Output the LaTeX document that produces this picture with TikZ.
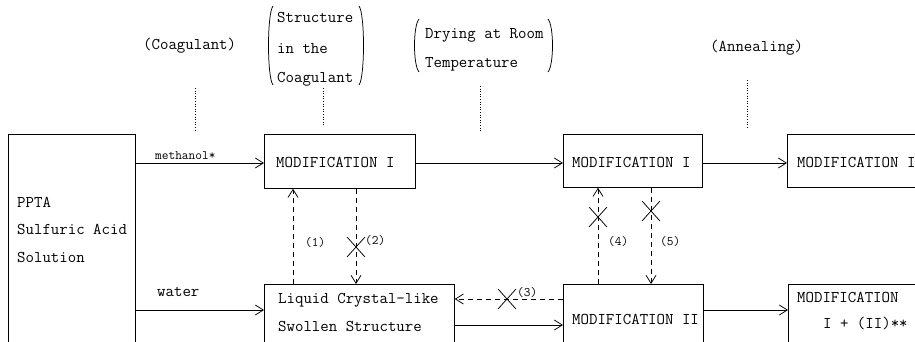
\documentclass[tikz,border=0pt]{standalone}
\usepackage{fontspec}
\usetikzlibrary{arrows.meta,shapes.misc}
\begin{document}
\begin{tikzpicture}[x=1pt,y=-1pt,
  box/.style={draw, line width=0.75pt, inner sep=0pt, anchor=north west},
  txt/.style={inner sep=0pt, anchor=west, text height=9.5pt, text depth=0pt, font=\ttfamily\fontsize{16.4}{18}\selectfont},
  small/.style={inner sep=0pt, anchor=west, text height=8pt, text depth=0pt, font=\ttfamily\fontsize{13}{15}\selectfont},
  flow/.style={line width=0.75pt, -{Straight Barb[length=8pt,width=10pt]}},
  dflow/.style={flow, dash pattern=on 5pt off 4pt},
  dots/.style={line width=0.6pt, dash pattern=on 1pt off 1.6pt},
  paren/.style={line width=0.75pt},
  xmark/.style={cross out, draw, line width=0.75pt, minimum width=17pt, minimum height=19pt, inner sep=0pt}]
\useasboundingbox (0,0) rectangle (915,341);
\clip (0,0) rectangle (915,341);
% boxes
\node[box, minimum width=127pt, minimum height=260pt] (lb) at (8,134) {};
\node[box, minimum width=151pt, minimum height=54pt] (m1) at (264,134) {};
\node[box, minimum width=139pt, minimum height=53pt] (m2) at (563,134) {};
\node[box, minimum width=200pt, minimum height=53pt] (m3) at (787,134) {};
\node[box, minimum width=190pt, minimum height=100pt] (lc) at (264,284) {};
\node[box, minimum width=140pt, minimum height=100pt] (m4) at (563,284) {};
\node[box, minimum width=200pt, minimum height=100pt] (m5) at (788,284) {};
% box texts
\node[txt] (t1) at (17,203) {PPTA};
\node[txt] (t2) at (17,230) {Sulfuric Acid};
\node[txt] (t3) at (17,258) {Solution};
\node[txt] (tm1) at (276,163) {MODIFICATION I};
\node[txt] (tm2) at (572,163) {MODIFICATION I};
\node[txt] (tm3) at (797,163) {MODIFICATION I};
\node[txt] (tlc1) at (278,299) {Liquid Crystal-like};
\node[txt] (tlc2) at (278,327) {Swollen Structure};
\node[txt] (tm4) at (572,320) {MODIFICATION II};
\node[txt] (tm5a) at (797,298) {MODIFICATION};
\node[txt] (tm5b) at (823,324) {I + (II)**};
% headings
\node[txt] (h1) at (143,45) {(Coagulant)};
\node[txt] (h2a) at (277,18) {Structure};
\node[txt] (h2b) at (277,49) {in the};
\node[txt] (h2c) at (277,78) {Coagulant};
\node[txt] (h3a) at (425,34) {Drying at Room};
\node[txt] (h3b) at (425,63) {Temperature};
\node[txt] (h4) at (710,47) {(Annealing)};
% parentheses
\draw[paren] (273,6) .. controls (267,14) and (267,77) .. (273,85);
\draw[paren] (359,6) .. controls (365,14) and (365,77) .. (359,85);
\draw[paren] (419,19) .. controls (413,26) and (413,65) .. (419,72);
\draw[paren] (548,19) .. controls (554,26) and (554,65) .. (548,72);
% dotted guide lines
\coordinate (d1a) at (195,88); \coordinate (d1b) at (195,132);
\coordinate (d2a) at (323,88); \coordinate (d2b) at (323,125);
\coordinate (d3a) at (480,86); \coordinate (d3b) at (480,132);
\coordinate (d4a) at (747,80); \coordinate (d4b) at (747,127);
\draw[dots] (d1a) -- (d1b);
\draw[dots] (d2a) -- (d2b);
\draw[dots] (d3a) -- (d3b);
\draw[dots] (d4a) -- (d4b);
% row/column coordinates
\coordinate (r1) at (0,163);
\coordinate (rw) at (0,310);
\coordinate (r3) at (0,299);
\coordinate (r4) at (0,325);
\coordinate (c1) at (293,0);
\coordinate (c2) at (356,0);
\coordinate (c4) at (598,0);
\coordinate (c5) at (651,0);
% solid connectors
\draw[flow] (lb.east |- r1) -- (m1.west |- r1);
\node[small] (lm) at (155,155) {methanol*};
\draw[flow] (lb.east |- rw) -- (lc.west |- rw);
\node[txt] (lw) at (157,292) {water};
\draw[flow] (m1.east |- r1) -- (m2.west |- r1);
\draw[flow] (m2.east |- r1) -- (m3.west |- r1);
\draw[flow] (lc.east |- r4) -- (m4.west |- r4);
\draw[flow] (m4.east |- rw) -- (m5.west |- rw);
% dashed connectors
\draw[dflow] (lc.north -| c1) -- (m1.south -| c1);
\draw[dflow] (m1.south -| c2) -- (lc.north -| c2);
\draw[dflow] (m4.west |- r3) -- (lc.east |- r3);
\draw[dflow] (m4.north -| c4) -- (m2.south -| c4);
\draw[dflow] (m2.south -| c5) -- (m4.north -| c5);
% crosses
\node[xmark] (x2) at (356,247) {};
\node[xmark] (x3) at (507,299) {};
\node[xmark] (x4) at (598,217) {};
\node[xmark] (x5) at (651,211) {};
% labels
\node[small] (l1) at (305,242) {(1)};
\node[small] (l2) at (365,240) {(2)};
\node[small] (l3) at (517,292) {(3)};
\node[small] (l4) at (608,241) {(4)};
\node[small] (l5) at (660,241) {(5)};
\end{tikzpicture}
\end{document}
